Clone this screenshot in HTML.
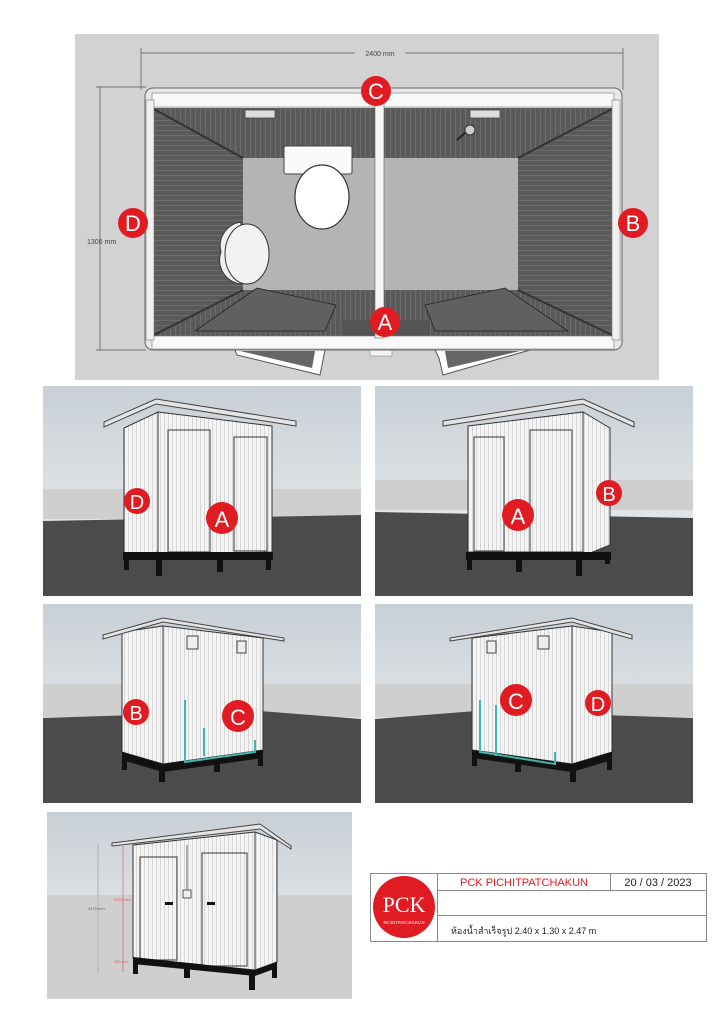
<!DOCTYPE html>
<html><head><meta charset="utf-8"><style>
html,body{margin:0;padding:0;background:#fff;}
svg{display:block;font-family:"Liberation Sans","Noto Sans CJK SC",sans-serif;}
</style></head><body>
<svg width="724" height="1024" viewBox="0 0 724 1024" xmlns="http://www.w3.org/2000/svg">
<defs>
<linearGradient id="sky" x1="0" y1="0" x2="0" y2="1"><stop offset="0" stop-color="#c8cfd5"/><stop offset="1" stop-color="#f2f3f3"/></linearGradient>
<pattern id="vstripe" width="4" height="10" patternUnits="userSpaceOnUse"><rect width="4" height="10" fill="#f4f4f4"/><rect width="1" height="10" fill="#d6d6d6"/></pattern>
<pattern id="hstripe" width="10" height="5" patternUnits="userSpaceOnUse"><rect width="10" height="5" fill="#5a5a5a"/><rect width="10" height="1" fill="#6c6c6c"/></pattern>
<pattern id="vdark" width="5" height="10" patternUnits="userSpaceOnUse"><rect width="5" height="10" fill="#5a5a5a"/><rect width="1" height="10" fill="#6c6c6c"/></pattern>
</defs>
<rect width="724" height="1024" fill="#fff"/>

<!-- TOP PLAN -->
<rect x="75" y="34" width="584" height="346" fill="#d2d2d2"/>
<g stroke="#555" stroke-width="0.7" fill="none">
<line x1="141" y1="53" x2="623" y2="53"/><line x1="141" y1="48" x2="141" y2="90"/><line x1="623" y1="48" x2="623" y2="90"/>
<line x1="100" y1="87" x2="100" y2="350"/><line x1="96" y1="87" x2="146" y2="87"/><line x1="96" y1="350" x2="146" y2="350"/>
</g>
<rect x="355" y="48" width="50" height="10" fill="#d2d2d2"/>
<text x="380" y="56" font-size="7" fill="#444" text-anchor="middle">2400 mm</text>
<text x="87" y="244" font-size="7" fill="#444">1300 mm</text>
<polygon points="235,350 325,350 320,375 237,355" fill="#fff" stroke="#555" stroke-width="1"/>
<polygon points="240,351 315,351 312,368" fill="#666"/>
<polygon points="435,350 530,350 443,375 439,358" fill="#fff" stroke="#555" stroke-width="1"/>
<polygon points="445,351 520,351 448,368" fill="#666"/>
<rect x="370" y="346" width="22" height="10" fill="#f4f4f4" stroke="#888" stroke-width="0.6"/>
<rect x="145" y="88" width="477" height="262" rx="8" fill="#e8e8e8" stroke="#666"/>
<rect x="152" y="108" width="462" height="228" fill="#5e5e5e"/>
<polygon points="152,108 614,108 518,158 243,158" fill="url(#vdark)"/>
<polygon points="152,336 614,336 518,290 243,290" fill="url(#vdark)"/>
<polygon points="152,108 243,158 243,290 152,336" fill="url(#hstripe)"/>
<polygon points="614,108 518,158 518,290 614,336" fill="url(#hstripe)"/>
<rect x="243" y="158" width="275" height="132" fill="#b4b4b4"/>
<line x1="152" y1="108" x2="243" y2="158" stroke="#333" stroke-width="2"/>
<line x1="614" y1="108" x2="518" y2="158" stroke="#333" stroke-width="2"/>
<line x1="152" y1="336" x2="243" y2="290" stroke="#333" stroke-width="2"/>
<line x1="614" y1="336" x2="518" y2="290" stroke="#333" stroke-width="2"/>
<polygon points="195,331 325,331 336,305 257,288" fill="#606060" stroke="#222" stroke-width="0.8"/>
<polygon points="435,331 568,331 505,288 425,305" fill="#606060" stroke="#222" stroke-width="0.8"/>
<rect x="343" y="320" width="87" height="16" fill="#555"/>
<rect x="152" y="93" width="462" height="14" fill="#f8f8f8" stroke="#777" stroke-width="0.6"/>
<rect x="152" y="336" width="462" height="13" fill="#f8f8f8" stroke="#777" stroke-width="0.6"/>
<rect x="146" y="100" width="8" height="240" fill="#f0f0f0" stroke="#777" stroke-width="0.6"/>
<rect x="612" y="100" width="8" height="240" fill="#f0f0f0" stroke="#777" stroke-width="0.6"/>
<rect x="375" y="100" width="9" height="238" fill="#f4f4f4" stroke="#666" stroke-width="0.6"/>
<rect x="245" y="110" width="30" height="8" fill="#ddd" stroke="#444" stroke-width="0.8"/>
<rect x="470" y="110" width="30" height="8" fill="#ddd" stroke="#444" stroke-width="0.8"/>
<rect x="284" y="146" width="68" height="28" rx="2" fill="#fafafa" stroke="#444"/>
<ellipse cx="322" cy="197" rx="27" ry="32" fill="#fff" stroke="#333" stroke-width="1.2"/>
<path d="M221,252 a24,24 0 0 1 20,-30 l0,62 a24,24 0 0 1 -20,-32z" fill="#f0f0f0" stroke="#333"/>
<ellipse cx="247" cy="254" rx="22" ry="30" fill="#f2f2f2" stroke="#333"/>
<circle cx="470" cy="130" r="5" fill="#ccc" stroke="#333"/>
<line x1="465" y1="133" x2="457" y2="140" stroke="#222" stroke-width="2"/>
<g fill="#e11b22"><circle cx="376" cy="91" r="15"/><circle cx="133" cy="223" r="15"/><circle cx="633" cy="223" r="15"/><circle cx="385" cy="322" r="15"/></g>
<g fill="#fff" font-size="22" text-anchor="middle"><text x="376" y="99">C</text><text x="133" y="231">D</text><text x="633" y="231">B</text><text x="385" y="330">A</text></g>

<!-- PANEL 1 -->
<g>
<rect x="43" y="386" width="318" height="210" fill="url(#sky)"/>
<rect x="43" y="489" width="318" height="30" fill="#cfcfcf"/>
<polygon points="43,521 361,515 361,596 43,596" fill="#4b4b4b"/>
<polygon points="124,428 158,412 158,552 124,560" fill="url(#vstripe)" stroke="#333" stroke-width="1"/>
<polygon points="158,412 272,426 272,552 158,555" fill="url(#vstripe)" stroke="#333" stroke-width="1"/>
<rect x="168" y="430" width="42" height="122" fill="url(#vstripe)" stroke="#555" stroke-width="1.2"/>
<rect x="234" y="437" width="33" height="114" fill="url(#vstripe)" stroke="#555" stroke-width="1.2"/>
<polygon points="104,422 156,399 296,421 296,426 156,404 104,427" fill="#e4e4e4" stroke="#444" stroke-width="1"/>
<rect x="123" y="552" width="150" height="8" fill="#111"/>
<rect x="124" y="558" width="5" height="12" fill="#111"/><rect x="156" y="558" width="6" height="18" fill="#111"/><rect x="217" y="558" width="6" height="14" fill="#111"/><rect x="266" y="558" width="5" height="12" fill="#111"/>
<circle cx="137" cy="501" r="13" fill="#e11b22"/><text x="137" y="509" font-size="20" fill="#fff" text-anchor="middle">D</text>
<circle cx="222" cy="518" r="16" fill="#e11b22"/><text x="222" y="527" font-size="22" fill="#fff" text-anchor="middle">A</text>
</g>

<!-- PANEL 2 -->
<g>
<rect x="375" y="386" width="318" height="210" fill="url(#sky)"/>
<rect x="375" y="480" width="318" height="30" fill="#cfcfcf"/>
<polygon points="375,512 693,518 693,596 375,596" fill="#4b4b4b"/>
<polygon points="468,426 583,412 583,552 468,552" fill="url(#vstripe)" stroke="#333" stroke-width="1"/>
<polygon points="583,412 610,428 610,545 583,556" fill="url(#vstripe)" stroke="#333" stroke-width="1"/>
<rect x="474" y="437" width="30" height="114" fill="url(#vstripe)" stroke="#555" stroke-width="1.2"/>
<rect x="530" y="430" width="42" height="122" fill="url(#vstripe)" stroke="#555" stroke-width="1.2"/>
<polygon points="443,421 583,399 634,422 634,427 583,404 443,426" fill="#e4e4e4" stroke="#444" stroke-width="1"/>
<rect x="466" y="552" width="145" height="8" fill="#111"/>
<rect x="467" y="558" width="5" height="12" fill="#111"/><rect x="516" y="558" width="6" height="14" fill="#111"/><rect x="576" y="558" width="6" height="18" fill="#111"/><rect x="605" y="552" width="5" height="12" fill="#111"/>
<circle cx="609" cy="493" r="13" fill="#e11b22"/><text x="609" y="501" font-size="20" fill="#fff" text-anchor="middle">B</text>
<circle cx="518" cy="515" r="16" fill="#e11b22"/><text x="518" y="524" font-size="22" fill="#fff" text-anchor="middle">A</text>
</g>

<!-- PANEL 3 -->
<g>
<rect x="43" y="604" width="318" height="199" fill="url(#sky)"/>
<rect x="43" y="684" width="318" height="33" fill="#cfcfcf"/>
<polygon points="43,718 260,711 361,719 361,803 43,803" fill="#4b4b4b"/>
<polygon points="122,632 163,626 163,764 122,752" fill="url(#vstripe)" stroke="#333" stroke-width="1"/>
<polygon points="163,626 263,638 263,750 163,764" fill="url(#vstripe)" stroke="#333" stroke-width="1"/>
<rect x="187" y="636" width="11" height="13" fill="#eee" stroke="#444"/><rect x="237" y="641" width="9" height="12" fill="#eee" stroke="#444"/>
<polygon points="103,635 163,618 284,638 284,641 163,622 103,639" fill="#e4e4e4" stroke="#444" stroke-width="1"/>
<polygon points="122,752 163,764 263,750 263,758 163,772 122,760" fill="#111"/>
<rect x="122" y="758" width="5" height="12" fill="#111"/><rect x="159" y="768" width="6" height="14" fill="#111"/><rect x="214" y="762" width="6" height="10" fill="#111"/><rect x="258" y="756" width="5" height="10" fill="#111"/>
<g stroke="#3fb7b0" stroke-width="2" fill="none"><path d="M185,700 V762 L255,752 V740"/><path d="M204,728 V756"/></g>
<circle cx="136" cy="712" r="13" fill="#e11b22"/><text x="136" y="720" font-size="20" fill="#fff" text-anchor="middle">B</text>
<circle cx="238" cy="716" r="16" fill="#e11b22"/><text x="238" y="725" font-size="22" fill="#fff" text-anchor="middle">C</text>
</g>

<!-- PANEL 4 -->
<g>
<rect x="375" y="604" width="318" height="199" fill="url(#sky)"/>
<rect x="375" y="684" width="318" height="33" fill="#cfcfcf"/>
<polygon points="375,719 476,711 693,718 693,803 375,803" fill="#4b4b4b"/>
<polygon points="472,638 572,626 572,764 472,750" fill="url(#vstripe)" stroke="#333" stroke-width="1"/>
<polygon points="572,626 612,632 612,752 572,764" fill="url(#vstripe)" stroke="#333" stroke-width="1"/>
<rect x="487" y="641" width="9" height="12" fill="#eee" stroke="#444"/><rect x="538" y="636" width="11" height="13" fill="#eee" stroke="#444"/>
<polygon points="450,638 572,618 632,635 632,639 572,622 450,641" fill="#e4e4e4" stroke="#444" stroke-width="1"/>
<polygon points="472,750 572,764 612,752 612,760 572,772 472,758" fill="#111"/>
<rect x="472" y="756" width="5" height="10" fill="#111"/><rect x="515" y="762" width="6" height="10" fill="#111"/><rect x="570" y="768" width="6" height="14" fill="#111"/><rect x="607" y="758" width="5" height="12" fill="#111"/>
<g stroke="#3fb7b0" stroke-width="2" fill="none"><path d="M480,700 V752 L555,764 V752"/><path d="M496,705 V756"/></g>
<circle cx="516" cy="700" r="16" fill="#e11b22"/><text x="516" y="709" font-size="22" fill="#fff" text-anchor="middle">C</text>
<circle cx="598" cy="703" r="13" fill="#e11b22"/><text x="598" y="711" font-size="20" fill="#fff" text-anchor="middle">D</text>
</g>

<!-- PANEL 5 -->
<g>
<rect x="47" y="812" width="305" height="187" fill="url(#sky)"/>
<rect x="47" y="895" width="305" height="104" fill="#cfcfcf"/>
<polygon points="133,845 255,832 255,970 133,958" fill="url(#vstripe)" stroke="#333" stroke-width="1"/>
<polygon points="255,832 277,840 277,962 255,970" fill="url(#vstripe)" stroke="#333" stroke-width="1"/>
<rect x="140" y="857" width="37" height="103" fill="url(#vstripe)" stroke="#555" stroke-width="1.2"/>
<rect x="202" y="853" width="45" height="113" fill="url(#vstripe)" stroke="#555" stroke-width="1.2"/>
<rect x="183" y="890" width="8" height="8" fill="#eee" stroke="#555"/>
<line x1="187" y1="845" x2="187" y2="890" stroke="#666"/>
<rect x="165" y="902" width="8" height="3" fill="#111"/><rect x="207" y="902" width="8" height="3" fill="#111"/>
<polygon points="112,843 260,824 291,846 291,849 260,829 112,846" fill="#e4e4e4" stroke="#444" stroke-width="1"/>
<polygon points="133,957 255,970 277,962 277,968 255,976 133,964" fill="#111"/>
<rect x="133" y="960" width="5" height="14" fill="#111"/><rect x="184" y="964" width="6" height="14" fill="#111"/><rect x="249" y="972" width="6" height="18" fill="#111"/><rect x="272" y="964" width="5" height="14" fill="#111"/>
<g stroke="#999" stroke-width="0.6" fill="none"><line x1="98" y1="843" x2="98" y2="973"/></g>
<g stroke="#e05050" stroke-width="0.6" fill="none"><line x1="123" y1="846" x2="123" y2="972"/></g>
<text x="88" y="910" font-size="4" fill="#666">2475 mm</text>
<text x="114" y="901" font-size="4" fill="#e05050">2220 mm</text>
<text x="114" y="963" font-size="4" fill="#e05050">300 mm</text>
</g>

<!-- TITLE BLOCK -->
<g stroke="#888" stroke-width="1" fill="none">
<rect x="370.5" y="873.5" width="336" height="68"/>
<line x1="437.5" y1="873" x2="437.5" y2="942"/>
<line x1="437" y1="890.5" x2="706" y2="890.5"/>
<line x1="437" y1="915.5" x2="706" y2="915.5"/>
<line x1="610.5" y1="873" x2="610.5" y2="890"/>
</g>
<circle cx="404" cy="907" r="31" fill="#e11b22"/>
<text x="404" y="912" font-family="Liberation Serif,serif" font-size="22" fill="#fff" text-anchor="middle">PCK</text>
<text x="404" y="924" font-family="Liberation Serif,serif" font-size="4.5" fill="#fff" text-anchor="middle">PICHITPATCHAKUN</text>
<text x="524" y="886" font-size="11" fill="#e11b22" text-anchor="middle">PCK PICHITPATCHAKUN</text>
<text x="658" y="886" font-size="11" fill="#222" text-anchor="middle">20 / 03 / 2023</text>
<text x="451" y="934" font-family="Liberation Sans,'Noto Sans CJK SC',sans-serif" font-size="9" fill="#222">ห้องน้ำสำเร็จรูป 2.40 x 1.30 x 2.47 m</text>
</svg>
</body></html>
